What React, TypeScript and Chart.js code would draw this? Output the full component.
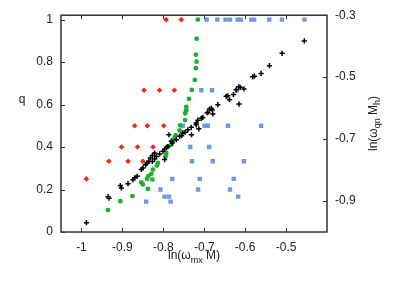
import React, { useEffect, useRef } from 'react';
import { Chart, registerables } from 'chart.js';
Chart.register(...registerables);

const FONT = '"Liberation Sans", Arial, Helvetica, sans-serif';

// Tick labels
const xTicks = [-1, -0.9, -0.8, -0.7, -0.6, -0.5];
const qTicks = [0, 0.2, 0.4, 0.6, 0.8, 1];
const rTicks = [-0.9, -0.7, -0.5, -0.3];

// Red diamonds (q axis)
const redX = [-0.793, -0.756, -0.847, -0.809, -0.773, -0.870, -0.839, -0.799, -0.902, -0.863, -0.825, -0.933, -0.886, -0.850, -0.988];
const redQ = [1, 1, 0.667, 0.667, 0.667, 0.5, 0.5, 0.5, 0.4, 0.4, 0.4, 0.333, 0.333, 0.333, 0.25];

// Blue squares (q axis)
const blueX = [-0.694, -0.668, -0.648, -0.637, -0.618, -0.610, -0.585, -0.578, -0.541, -0.510, -0.455,
  -0.707, -0.681, -0.620,
  -0.752, -0.699, -0.691, -0.642, -0.561,
  -0.734, -0.688,
  -0.730, -0.679, -0.603,
  -0.778, -0.711, -0.628,
  -0.807, -0.715, -0.637,
  -0.797, -0.786, -0.617,
  -0.842, -0.782];
const blueQ = [1, 1, 1, 1, 1, 1, 1, 1, 1, 1, 1,
  0.667, 0.667, 0.667,
  0.5, 0.5, 0.5, 0.5, 0.5,
  0.4, 0.4,
  0.333, 0.333, 0.333,
  0.25, 0.25, 0.25,
  0.2, 0.2, 0.2,
  0.1667, 0.1667, 0.1667,
  0.1429, 0.1429];

// Green circles (q axis)
const greenX = [-0.7156, -0.7188, -0.7205, -0.7188, -0.7205, -0.7229, -0.7302, -0.7371, -0.7439, -0.7439, -0.7463, -0.7468,
  -0.7590, -0.7602, -0.7700, -0.7724, -0.7766, -0.7805, -0.7888, -0.7927, -0.7944, -0.8132, -0.8156, -0.8254,
  -0.8293, -0.8366, -0.8400, -0.8268, -0.8537, -0.8498, -0.8376, -0.8756, -0.9049, -0.9351];
const greenQ = [1.0, 0.910, 0.835, 0.802, 0.771, 0.716, 0.669, 0.627, 0.589, 0.573, 0.559, 0.527,
  0.502, 0.478, 0.455, 0.443, 0.431, 0.411, 0.403, 0.372, 0.356, 0.325, 0.313, 0.294,
  0.274, 0.263, 0.250, 0.247, 0.234, 0.224, 0.203, 0.169, 0.145, 0.103];

// Black pluses (right axis ln(w_qn M_h))
const blackX = [-0.9878, -0.9351, -0.9327, -0.9049, -0.9024, -0.8863, -0.8741, -0.8700, -0.8639, -0.8537, -0.8498,
  -0.8432, -0.8400, -0.8351, -0.8317, -0.8268, -0.8268, -0.8212, -0.8212, -0.8171, -0.8090, -0.8010, -0.7968,
  -0.7968, -0.7888, -0.7920, -0.7863, -0.7805, -0.7780, -0.7683, -0.7602, -0.7554, -0.7522, -0.7468, -0.7400,
  -0.7317, -0.7310, -0.7195, -0.7195, -0.7156, -0.7132, -0.7073, -0.7034, -0.6927, -0.6912, -0.6871, -0.6829,
  -0.6805, -0.6790, -0.6668, -0.6463, -0.6424, -0.6383, -0.6285, -0.6220, -0.6156, -0.6122, -0.6029, -0.6151,
  -0.5815, -0.5773, -0.5610, -0.5407, -0.5098, -0.4554];
const blackR = [-0.970, -0.886, -0.891, -0.850, -0.858, -0.844, -0.831, -0.825, -0.820, -0.798, -0.793,
  -0.783, -0.777, -0.772, -0.761, -0.772, -0.753, -0.745, -0.764, -0.756, -0.748, -0.739, -0.732,
  -0.766, -0.724, -0.728, -0.686, -0.707, -0.713, -0.702, -0.691, -0.689, -0.680, -0.678, -0.670,
  -0.662, -0.686, -0.654, -0.648, -0.639, -0.667, -0.633, -0.630, -0.615, -0.614, -0.603, -0.601,
  -0.606, -0.619, -0.589, -0.562, -0.560, -0.573, -0.556, -0.541, -0.531, -0.533, -0.538, -0.587,
  -0.499, -0.497, -0.488, -0.463, -0.423, -0.383];

const fmt = (v: number) => String(Math.round(v * 10) / 10);

type Part = { t: string; sub?: boolean };

function drawRich(ctx: CanvasRenderingContext2D, parts: Part[], x: number, y: number) {
  const main = `12px ${FONT}`;
  const small = `9px ${FONT}`;
  let total = 0;
  const widths = parts.map((p) => {
    ctx.font = p.sub ? small : main;
    const w = ctx.measureText(p.t).width;
    total += w;
    return w;
  });
  let cx = x - total / 2;
  ctx.textAlign = 'left';
  ctx.textBaseline = 'alphabetic';
  parts.forEach((p, i) => {
    ctx.font = p.sub ? small : main;
    ctx.fillText(p.t, cx, p.sub ? y + 3.5 : y);
    cx += widths[i];
  });
}

const decor = {
  id: 'decor',
  afterDraw(chart: any) {
    const { ctx, chartArea: a, scales } = chart;
    ctx.save();
    ctx.strokeStyle = '#333';
    ctx.lineWidth = 1;
    const L = 4;
    const line = (x1: number, y1: number, x2: number, y2: number) => {
      ctx.beginPath();
      ctx.moveTo(x1, y1);
      ctx.lineTo(x2, y2);
      ctx.stroke();
    };
    scales.x.ticks.forEach((t: any) => {
      const px = Math.round(scales.x.getPixelForValue(t.value)) + 0.5;
      line(px, a.bottom, px, a.bottom - L);
      line(px, a.top, px, a.top + L);
    });
    scales.y.ticks.forEach((t: any) => {
      const py = Math.round(scales.y.getPixelForValue(t.value)) + 0.5;
      line(a.left, py, a.left + L, py);
    });
    scales.y2.ticks.forEach((t: any) => {
      const py = Math.round(scales.y2.getPixelForValue(t.value)) + 0.5;
      line(a.right, py, a.right - L, py);
    });
    ctx.lineWidth = 1.5;
    ctx.strokeRect(a.left, a.top, a.right - a.left, a.bottom - a.top);

    ctx.fillStyle = '#222';
    drawRich(ctx, [{ t: 'ln(ω' }, { t: 'mx', sub: true }, { t: ' M)' }], (a.left + a.right) / 2, 259);
    drawRich(ctx, [{ t: 'q' }], 22, 103);
    ctx.translate(376.5, 123.5);
    ctx.rotate(-Math.PI / 2);
    drawRich(ctx, [{ t: 'ln(ω' }, { t: 'qn', sub: true }, { t: ' M' }, { t: 'h', sub: true }, { t: ')' }], 0, 0);
    ctx.restore();
  },
};

export default function App() {
  const ref = useRef<HTMLCanvasElement>(null);
  useEffect(() => {
    if (!ref.current) return;
    const tickFont = { family: FONT, size: 12 };
    const grid = { display: false, drawTicks: false, tickLength: 0 };
    const chart = new Chart(ref.current, {
      type: 'scatter',
      data: {
        datasets: [
          {
            data: blackX.map((x, i) => ({ x, y: blackR[i] })),
            yAxisID: 'y2',
            pointStyle: 'cross',
            pointRadius: 2.6,
            borderWidth: 1.5,
            borderColor: '#000',
            backgroundColor: '#000',
          },
          {
            data: greenX.map((x, i) => ({ x, y: greenQ[i] })),
            yAxisID: 'y',
            pointStyle: 'circle',
            pointRadius: 2.4,
            borderWidth: 0,
            backgroundColor: '#1fae2e',
          },
          {
            data: redX.map((x, i) => ({ x, y: redQ[i] })),
            yAxisID: 'y',
            pointStyle: 'rectRot',
            pointRadius: 2.8,
            borderWidth: 0,
            backgroundColor: '#ec2a1c',
          },
          {
            data: blueX.map((x, i) => ({ x, y: blueQ[i] })),
            yAxisID: 'y',
            pointStyle: 'rect',
            pointRadius: 3.1,
            borderWidth: 0,
            backgroundColor: '#6f97e6',
          },
        ],
      } as any,
      options: {
        animation: false,
        responsive: false,
        devicePixelRatio: 1,
        layout: { padding: { top: 15, left: 0, right: 0, bottom: 0 } },
        plugins: { legend: { display: false }, tooltip: { enabled: false } },
        scales: {
          x: {
            type: 'linear',
            position: 'bottom',
            min: -1.05,
            max: -0.4,
            grid,
            border: { display: false },
            ticks: { padding: 8, font: tickFont, color: '#222', autoSkip: false, maxRotation: 0, callback: (v: any) => fmt(v) },
            afterBuildTicks: (s: any) => { s.ticks = xTicks.map((v) => ({ value: v })); },
            afterFit: (s: any) => { s.height = 53; },
          },
          y: {
            type: 'linear',
            position: 'left',
            min: 0,
            max: 1.0206,
            grid,
            border: { display: false },
            ticks: { padding: 8, font: tickFont, color: '#222', autoSkip: false, callback: (v: any) => fmt(v) },
            afterBuildTicks: (s: any) => { s.ticks = qTicks.map((v) => ({ value: v })); },
            afterFit: (s: any) => { s.width = 61; },
          },
          y2: {
            type: 'linear',
            position: 'right',
            min: -1,
            max: -0.3,
            grid,
            border: { display: false },
            ticks: { padding: 8, font: tickFont, color: '#222', autoSkip: false, callback: (v: any) => fmt(v) },
            afterBuildTicks: (s: any) => { s.ticks = rTicks.map((v) => ({ value: v })); },
            afterFit: (s: any) => { s.width = 80; },
          },
        },
      } as any,
      plugins: [decor],
    });
    return () => chart.destroy();
  }, []);
  return (
    <div style={{ position: 'fixed', left: 0, top: 0, width: 407, height: 285, background: '#fff' }}>
      <canvas ref={ref} width={407} height={285} />
    </div>
  );
}
